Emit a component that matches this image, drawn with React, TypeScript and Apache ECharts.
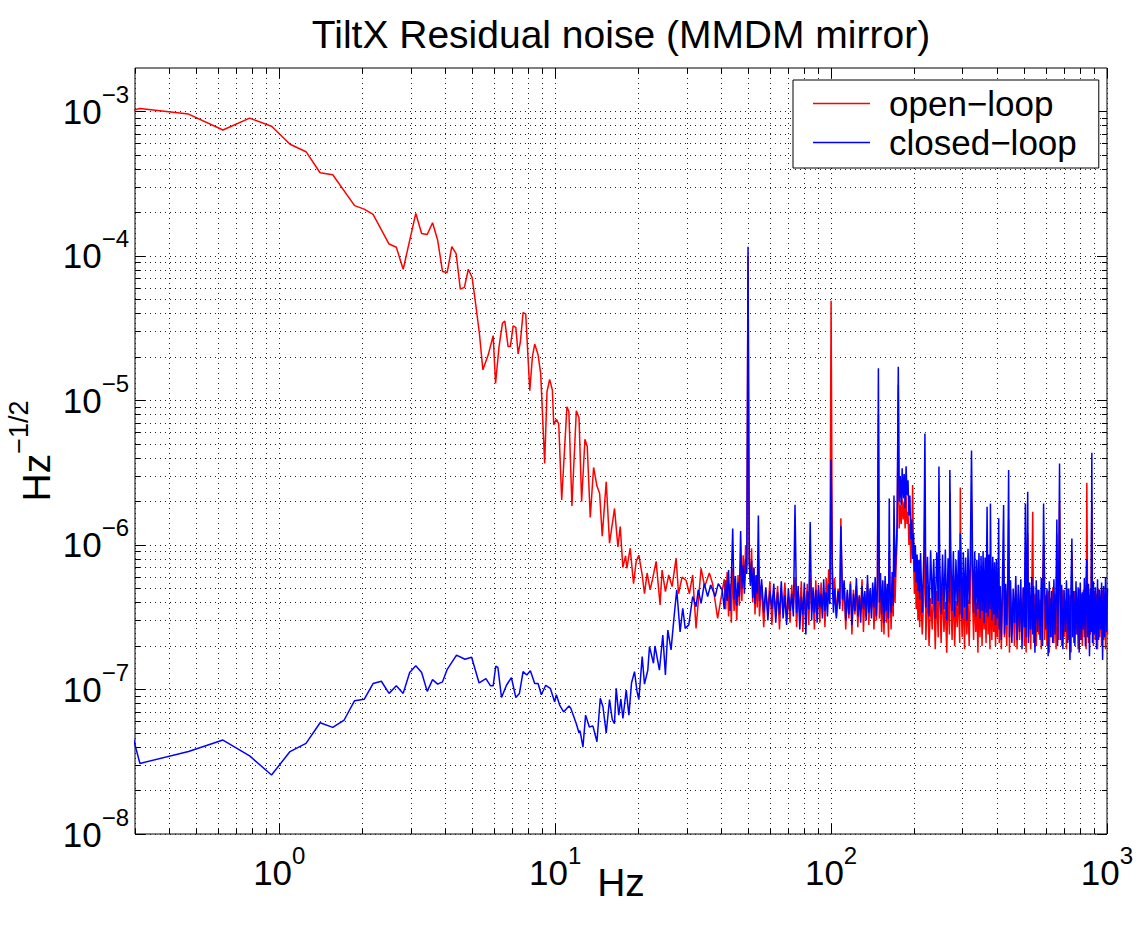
import { useEffect, useRef } from 'react';
import * as echarts from 'echarts';

// Open-loop tilt residual below 40 Hz: [frequency Hz, amplitude Hz^-1/2]
const openLoopLow: [number, number][] = [
  [0.15625, 7.5e-4], [0.3125, 1.05e-3], [0.469, 9.6e-4], [0.625, 7.45e-4], [0.781, 9.0e-4], [0.9375, 7.9e-4],
  [1.094, 5.93e-4], [1.25, 5.27e-4], [1.406, 3.77e-4], [1.5625, 3.65e-4], [1.875, 2.23e-4], [2.031, 2.11e-4],
  [2.1875, 1.94e-4], [2.5, 1.21e-4], [2.656, 1.15e-4], [2.8125, 8.1e-5], [3.125, 1.97e-4], [3.281, 1.43e-4],
  [3.4375, 1.41e-4], [3.594, 1.7e-4], [3.75, 1.29e-4], [3.906, 7.8e-5], [4.0625, 7.7e-5], [4.219, 1.16e-4],
  [4.375, 1.04e-4], [4.531, 5.9e-5], [4.6875, 6.07e-5], [4.844, 8.1e-5], [5.0, 7.1e-5], [5.156, 4.58e-5],
  [5.3125, 2.92e-5], [5.469, 1.63e-5], [5.72, 2.07e-5], [5.96, 2.81e-5], [6.08, 1.31e-5], [6.26, 2.36e-5],
  [6.44, 3.42e-5], [6.57, 3.55e-5], [6.75, 2.36e-5], [6.88, 2.36e-5], [7.04, 3.28e-5], [7.2, 3.21e-5],
  [7.34, 2.1e-5], [7.48, 2.55e-5], [7.65, 4.06e-5], [7.82, 3.97e-5], [8.09, 1.17e-5], [8.27, 2.01e-5],
  [8.43, 2.46e-5], [8.67, 2.07e-5], [8.86, 1.54e-5], [9.16, 3.67e-6], [9.34, 1.15e-5], [9.55, 1.4e-5],
  [9.77, 1.18e-5], [9.88, 6.8e-6], [10.1, 7.4e-6], [10.3, 6.9e-6], [10.56, 2.05e-6], [11.03, 9.06e-6],
  [11.21, 8.4e-6], [11.5, 1.86e-6], [11.93, 8.5e-6], [12.2, 7.6e-6], [12.47, 2.0e-6], [12.82, 5.4e-6],
  [13.07, 4.8e-6], [13.4, 1.55e-6], [13.78, 3.44e-6], [14.17, 2.56e-6], [14.49, 2.28e-6], [14.81, 1.15e-6],
  [15.31, 2.74e-6], [15.74, 1.03e-6], [16.41, 1.79e-6], [16.88, 9.7e-7], [17.21, 1.34e-6], [17.59, 7.0e-7],
  [17.99, 8.4e-7], [18.19, 6.9e-7], [18.7, 9.5e-7], [19.23, 5.4e-7], [19.66, 7.7e-7], [20.1, 8.5e-7],
  [20.67, 6.2e-7], [21.07, 4.6e-7], [21.54, 6.4e-7], [22.09, 4.9e-7], [22.58, 5.9e-7], [23.22, 7.7e-7],
  [24.0, 3.85e-7], [24.4, 6.7e-7], [25.09, 4.75e-7], [25.8, 6.2e-7], [26.53, 5.15e-7], [27.43, 8.1e-7],
  [28.0, 4.6e-7], [28.83, 6.0e-7], [29.81, 5.7e-7], [30.65, 4.6e-7], [31.5, 6.2e-7], [32.4, 2.65e-7],
  [33.8, 6.9e-7], [34.8, 5.15e-7], [36.2, 6.4e-7], [37.2, 5.4e-7], [38.8, 3.1e-7],
];

// Closed-loop tilt residual below 40 Hz: [frequency Hz, amplitude Hz^-1/2]
const closedLoopLow: [number, number][] = [
  [0.15625, 4.7e-6], [0.3125, 3.08e-8], [0.469, 3.72e-8], [0.625, 4.47e-8], [0.781, 3.47e-8], [0.9375, 2.56e-8],
  [1.094, 3.72e-8], [1.25, 4.24e-8], [1.406, 5.89e-8], [1.5625, 5.47e-8], [1.719, 6.15e-8], [1.875, 8.37e-8],
  [2.031, 8.55e-8], [2.1875, 1.1e-7], [2.344, 1.14e-7], [2.5, 9.4e-8], [2.656, 1.06e-7], [2.8125, 9.4e-8],
  [2.969, 1.31e-7], [3.125, 1.46e-7], [3.281, 1.31e-7], [3.4375, 9.7e-8], [3.594, 1.17e-7], [3.75, 1.09e-7],
  [3.906, 1.13e-7], [4.0625, 1.38e-7], [4.39, 1.73e-7], [4.71, 1.62e-7], [4.98, 1.67e-7], [5.3, 1.11e-7],
  [5.61, 1.19e-7], [5.83, 1.06e-7], [5.96, 1.06e-7], [6.09, 1.45e-7], [6.2, 1.42e-7], [6.39, 8.8e-8],
  [6.66, 1.07e-7], [6.94, 1.21e-7], [7.2, 8.8e-8], [7.42, 9.4e-8], [7.65, 1.33e-7], [7.89, 1.26e-7],
  [8.13, 1.35e-7], [8.43, 1.1e-7], [8.67, 1.1e-7], [8.91, 9.2e-8], [9.24, 1.07e-7], [9.6, 1.02e-7],
  [9.96, 8.2e-8], [10.1, 9.2e-8], [10.38, 7.8e-8], [10.73, 7.0e-8], [11.22, 7.7e-8], [11.4, 7.4e-8],
  [11.93, 5.8e-8], [12.2, 5.0e-8], [12.3, 5.2e-8], [12.61, 4.0e-8], [12.89, 6.65e-8], [13.3, 5.5e-8],
  [13.7, 5.6e-8], [14.17, 4.35e-8], [14.57, 8.7e-8], [14.9, 7.6e-8], [15.31, 5.0e-8], [15.74, 8.5e-8],
  [16.1, 6.2e-8], [16.4, 5.8e-8], [16.64, 1.02e-7], [17.0, 6.65e-8], [17.3, 8.6e-8], [17.6, 6.3e-8],
  [18.09, 9.9e-8], [18.5, 6.65e-8], [18.91, 1.11e-7], [19.39, 1.33e-7], [19.8, 9.7e-8], [20.1, 8.5e-8],
  [20.67, 1.69e-7], [21.07, 1.09e-7], [21.66, 1.36e-7], [21.97, 1.98e-7], [22.71, 1.52e-7], [23.0, 2.0e-7],
  [23.87, 1.36e-7], [24.55, 2.38e-7], [25.09, 1.26e-7], [25.6, 2.58e-7], [26.3, 1.88e-7], [27.05, 3.37e-7],
  [27.58, 4.9e-7], [28.36, 2.5e-7], [29.0, 3.65e-7], [29.6, 2.65e-7], [30.5, 2.8e-7], [31.5, 4.4e-7],
  [32.4, 3.74e-7], [33.0, 4.9e-7], [33.8, 3.94e-7], [34.7, 5.4e-7], [35.7, 4.4e-7], [36.6, 5.3e-7],
  [38.0, 4.4e-7], [39.0, 5.4e-7], [40.3, 4.9e-7],
];

// Amplitudes above 40 Hz are listed in units of 1e-7 Hz^-1/2
const BAND_UNIT = 1e-7;

// Open-loop, 40 Hz - 1 kHz: [frequency Hz, amplitude x 1e-7]
const openLoopBand: [number, number][] = [
  [41, 5.8], [41.5, 3.6], [42, 6.5], [42.5, 3.2], [43, 5.4], [43.5, 2.9], [44, 6.9], [44.5, 3.5], [45, 5.0], [45.5, 3.0],
  [46, 6.2], [46.5, 3.8], [47, 7.0], [47.5, 4.1], [48, 8.5], [48.5, 5.0], [49, 10], [49.5, 7.2], [50, 1000], [50.5, 8.0],
  [51, 5.5], [51.5, 9.5], [52, 4.0], [52.5, 7.0], [53, 3.3], [53.5, 6.1], [54, 3.7], [54.5, 8.0], [55, 3.2], [56, 5.3],
  [57, 2.7], [58, 4.9], [59, 3.4], [60, 5.6], [61, 2.8], [62, 4.6], [63, 3.5], [64, 5.2], [65, 2.6], [66, 4.8],
  [67, 3.7], [68, 5.5], [69, 3.0], [70, 4.4], [71, 2.9], [72, 5.3], [73, 3.6], [74, 6.0], [75, 2.7], [76, 4.7],
  [77, 3.4], [78, 5.6], [79, 2.5], [80, 4.6], [81, 3.3], [82, 5.4], [83, 2.8], [84, 6.2], [85, 3.5], [86, 4.5],
  [87, 2.6], [88, 5.7], [89, 3.4], [90, 4.9], [91, 2.9], [92, 5.5], [93, 3.8], [94, 4.6], [95, 2.7], [96, 5.9],
  [97, 3.9], [98, 6.8], [99, 5.0], [100, 490], [101, 7.5], [102, 4.2], [103, 5.9], [104.5, 3.2], [106, 5.0], [107.5, 3.8],
  [108.5, 15.3], [110, 3.5], [111.5, 5.3], [113, 2.6], [114.5, 4.7], [116, 3.1], [117.5, 5.6], [119, 2.4], [120.5, 4.9], [122, 3.3],
  [123.5, 5.2], [125, 2.7], [126.5, 4.5], [128, 3.5], [129.5, 5.8], [131, 2.5], [132.5, 4.6], [134, 3.2], [135.5, 5.4], [137, 2.8],
  [138.5, 4.8], [140, 3.6], [141.5, 5.1], [143, 2.6], [144.5, 4.4], [146, 3.0], [147.2, 5.5], [148.4, 80], [149.6, 3.1], [151, 5.3],
  [152.5, 2.5], [154, 4.8], [155.5, 2.4], [157, 5.6], [158.5, 2.9], [160, 4.6], [161.5, 2.3], [162.5, 9.0], [163.5, 5.0], [165, 2.6],
  [166.5, 4.9], [168, 3.2], [169, 10], [170.5, 4.0], [172, 7.0], [173.5, 11], [175.2, 128], [176.5, 13], [178, 19], [179.5, 14],
  [181, 21], [182.5, 15], [184, 20], [185.5, 13], [187, 22], [188.5, 14], [190, 17], [191.5, 10], [193, 14], [194.5, 7.5],
  [196, 11], [197.5, 26], [199, 8.0], [200.5, 4.6], [202, 7.0], [203.5, 3.6], [205, 6.2], [206.5, 3.0], [208, 5.5], [209.5, 2.7],
  [211, 5.0], [214, 2.4], [217, 4.6], [218.8, 22], [220.5, 2.2], [223.5, 5.2], [226.5, 2.0], [229.5, 4.3], [232.5, 2.6], [235.5, 5.5],
  [238.5, 1.9], [241.5, 4.8], [244.5, 2.3], [246, 15], [247.5, 4.4], [250.5, 2.1], [253.5, 5.1], [256.5, 2.5], [259.5, 4.0], [262.5, 1.8],
  [265.5, 4.9], [268.5, 2.4], [269.4, 23], [271.5, 4.6], [274.5, 2.2], [277.5, 5.3], [280.5, 2.0], [283.5, 4.1], [286.5, 2.7], [289.5, 5.0],
  [292.5, 2.1], [294, 25], [295.5, 4.5], [298.5, 2.3], [301.5, 4.8], [304.5, 1.9], [307.5, 5.2], [310.5, 2.4], [313.5, 4.2], [316.5, 2.0],
  [319.5, 4.7], [322.8, 20], [325.5, 4.4], [328.5, 2.2], [331.5, 5.4], [334.5, 2.5], [337.5, 4.0], [340.5, 1.8], [343.5, 4.9], [346.5, 2.3],
  [349.5, 4.5], [352.5, 2.0], [355.5, 5.1], [358.5, 2.6], [361.5, 4.3], [364.5, 2.1], [367.6, 9.0], [370.5, 2.4], [373.5, 4.8], [376.5, 1.9],
  [378, 8.0], [379.5, 4.6], [382.5, 2.2], [385.5, 5.0], [388.5, 2.5], [391.5, 4.2], [394.5, 2.0], [397.5, 4.7], [400.5, 2.3], [403, 4.4],
  [405, 7.0], [407, 2.1], [410, 4.8], [414, 1.9], [418, 4.2], [422, 8.0], [425, 2.3], [429, 5.0], [433, 2.0], [437, 4.5],
  [440, 15], [443, 1.8], [447, 4.9], [452, 2.4], [457, 4.1], [462, 2.0], [467, 5.2], [472, 1.9], [477, 4.6], [482, 2.2],
  [487, 4.3], [492, 2.5], [497, 5.0], [502, 2.0], [506, 9.0], [509, 1.8], [512, 4.7], [516, 12], [519, 2.3], [524, 4.4],
  [529, 1.9], [534, 5.1], [538, 17], [542, 2.1], [548, 4.6], [554, 2.0], [560, 4.9], [566, 2.4], [572, 4.2], [578, 1.9],
  [584, 5.0], [589, 10], [594, 2.2], [600, 4.5], [606, 2.0], [612, 4.8], [618, 1.8], [624, 4.3], [630, 2.3], [636, 5.1],
  [642, 2.1], [648, 4.6], [654, 1.9], [658, 12], [662, 4.4], [668, 2.2], [673, 20], [678, 4.7], [685, 2.0], [692, 4.9],
  [699, 2.3], [706, 4.1], [713, 1.9], [720, 5.0], [727, 2.2], [734, 4.5], [741, 1.8], [746, 9.0], [751, 4.6], [758, 2.1],
  [765, 4.8], [772, 2.4], [779, 4.3], [786, 1.9], [793, 5.0], [800, 2.2], [807, 4.6], [814, 2.0], [821, 4.9], [828, 2.3],
  [835, 4.4], [840, 1.9], [845, 27], [850, 4.7], [857, 2.1], [864, 4.5], [871, 2.4], [876, 5.2], [881, 20], [886, 4.3],
  [893, 2.0], [900, 4.8], [908, 2.2], [916, 4.6], [924, 1.9], [932, 5.0], [940, 2.3], [948, 4.4], [956, 2.0], [964, 4.9],
  [972, 2.2], [980, 4.5], [988, 1.9], [996, 4.7], [1004, 2.4],
];

// Closed-loop, 40 Hz - 1 kHz: [frequency Hz, amplitude x 1e-7]
const closedLoopBand: [number, number][] = [
  [41, 3.6], [41.5, 5.7], [42, 4.1], [42.5, 6.7], [43, 3.5], [43.5, 5.9], [44, 13], [44.5, 4.2], [45, 6.1], [45.5, 3.8],
  [46, 5.5], [46.5, 4.4], [47, 12.5], [47.5, 5.0], [48, 7.2], [48.5, 4.6], [49, 8.0], [49.5, 6.3], [50, 1160], [50.5, 7.5],
  [51, 5.2], [51.5, 7.8], [52, 4.3], [52.5, 6.9], [53, 3.9], [53.5, 6.2], [54, 4.6], [54.5, 16], [55, 4.1], [56, 5.8],
  [57, 3.4], [58, 5.1], [59, 3.0], [60, 4.8], [61, 3.6], [62, 5.4], [63, 2.9], [64, 4.7], [65, 3.3], [66, 5.6],
  [67, 3.1], [68, 4.5], [69, 2.8], [70, 5.0], [71, 3.5], [72, 4.6], [73, 3.2], [74, 19], [75, 3.4], [76, 5.2],
  [77, 2.6], [78, 4.4], [79, 3.3], [80, 5.5], [81, 2.4], [82, 4.8], [83, 3.6], [84, 14.4], [85, 3.0], [86, 5.1],
  [87, 3.4], [88, 4.9], [89, 2.9], [90, 5.3], [91, 3.7], [92, 4.6], [93, 3.1], [94, 5.8], [95, 3.5], [96, 4.7],
  [97, 3.2], [98, 5.4], [99, 3.9], [100, 39], [101, 5.6], [102, 3.4], [103, 5.0], [104.5, 3.1], [106, 4.8], [107.5, 3.6],
  [108.5, 13.5], [110, 4.2], [111.5, 5.7], [113, 3.0], [114.5, 4.9], [116, 3.3], [117.5, 5.4], [119, 2.8], [120.5, 4.6], [122, 3.5],
  [123.5, 5.9], [125, 3.2], [126.5, 4.4], [128, 2.9], [129.5, 5.2], [131, 3.6], [132.5, 4.8], [134, 3.0], [135.5, 6.2], [137, 3.4],
  [138.5, 5.0], [140, 3.1], [141.5, 5.5], [143, 3.7], [144.5, 6.0], [146, 3.2], [147.2, 5.1], [148.4, 167], [149.6, 4.0], [151, 6.4],
  [152.5, 3.3], [154, 5.7], [155.5, 2.9], [157, 6.1], [158.5, 3.5], [160, 5.4], [161.5, 3.1], [162.5, 21], [163.5, 4.8], [165, 3.4],
  [166.5, 6.5], [168, 3.8], [169, 22], [170.5, 6.0], [172, 9.0], [173.5, 14], [175.2, 171], [176.5, 20], [178, 30], [179.5, 19],
  [181, 34], [182.5, 21], [184, 31], [185.5, 18], [187, 35], [188.5, 22], [190, 28], [191.5, 16], [193, 22], [194.5, 11],
  [196, 15], [197.5, 8.0], [199, 12], [200.5, 6.5], [202, 10], [203.5, 5.5], [205, 8.6], [206.5, 4.8], [208, 7.9], [209.5, 4.2],
  [211, 8.8], [214, 3.4], [217, 9.0], [218.8, 59], [220.5, 3.7], [223.5, 8.3], [226.5, 3.2], [229.5, 9.2], [232.5, 3.9], [235.5, 8.0],
  [238.5, 3.1], [241.5, 8.9], [244.5, 4.1], [246, 35], [247.5, 7.8], [250.5, 3.3], [253.5, 8.6], [256.5, 3.6], [259.5, 9.3], [262.5, 3.0],
  [265.5, 8.1], [268.5, 4.0], [269.4, 33], [271.5, 8.8], [274.5, 3.5], [277.5, 9.1], [280.5, 3.2], [283.5, 7.9], [286.5, 3.8], [289.5, 9.2],
  [292.5, 3.3], [294, 12], [295.5, 8.5], [298.5, 3.1], [301.5, 8.9], [304.5, 3.7], [307.5, 8.2], [310.5, 3.0], [313.5, 9.4], [316.5, 3.9],
  [319.5, 8.0], [322.8, 45], [325.5, 8.7], [328.5, 3.4], [331.5, 9.0], [334.5, 3.2], [337.5, 7.9], [340.5, 3.6], [343.5, 8.8], [346.5, 3.1],
  [349.5, 8.4], [352.5, 3.5], [355.5, 9.1], [358.5, 2.9], [361.5, 8.2], [364.5, 3.4], [367.6, 18.4], [370.5, 3.2], [373.5, 8.6], [376.5, 3.6],
  [378, 19.4], [379.5, 7.9], [382.5, 3.0], [385.5, 8.3], [388.5, 3.3], [391.5, 7.6], [394.5, 2.8], [397.5, 8.0], [400.5, 3.1], [403, 5.6],
  [405, 15.3], [407, 2.6], [410, 5.2], [414, 2.2], [418, 5.9], [422, 18.9], [425, 2.4], [429, 5.4], [433, 2.8], [437, 6.0],
  [440, 33], [443, 2.3], [447, 5.7], [452, 2.1], [457, 5.0], [462, 2.9], [467, 6.1], [472, 2.2], [477, 5.3], [482, 2.5],
  [487, 5.8], [492, 1.9], [497, 5.1], [502, 2.7], [506, 19.4], [509, 2.3], [512, 5.6], [516, 23.4], [519, 2.1], [524, 5.5],
  [529, 2.6], [534, 6.0], [538, 2.4], [542, 5.2], [548, 1.8], [554, 5.7], [560, 2.5], [566, 4.9], [572, 2.2], [578, 5.9],
  [584, 2.0], [589, 19.4], [594, 5.4], [600, 2.6], [606, 5.0], [612, 1.7], [618, 5.6], [624, 2.3], [630, 4.8], [636, 2.1],
  [642, 5.8], [648, 2.4], [654, 5.1], [658, 15], [662, 2.0], [668, 5.5], [673, 36.7], [678, 2.2], [685, 5.3], [692, 1.9],
  [699, 4.9], [706, 2.5], [713, 5.7], [720, 2.1], [727, 5.0], [734, 1.6], [741, 5.4], [746, 11.1], [751, 2.3], [758, 4.8],
  [765, 2.0], [772, 5.6], [779, 2.4], [786, 5.1], [793, 1.8], [800, 5.5], [807, 2.2], [814, 4.7], [821, 2.6], [828, 5.9],
  [835, 2.0], [840, 5.2], [845, 8.0], [850, 2.3], [857, 5.4], [864, 1.7], [871, 5.0], [876, 2.5], [881, 43.5], [886, 2.1],
  [893, 5.6], [900, 2.4], [908, 5.1], [916, 1.9], [924, 5.8], [932, 2.2], [940, 4.9], [948, 2.6], [956, 5.5], [964, 1.6],
  [972, 5.2], [980, 2.3], [988, 6.0], [996, 2.5], [1004, 5.0],
];

// Axis ranges and tick positions
const X_MIN = 0.3;
const X_MAX = 1000;
const Y_MIN = 1e-8;
const Y_MAX = 2e-3;
const X_MAJOR = [1, 10, 100, 1000];
const X_DECADES = [0.1, 1, 10, 100];
const Y_MAJOR = [1e-8, 1e-7, 1e-6, 1e-5, 1e-4, 1e-3];
const Y_DECADES = [1e-8, 1e-7, 1e-6, 1e-5, 1e-4];
const MINOR_STEPS = [2, 3, 4, 5, 6, 7, 8, 9];

const X_MINOR = X_DECADES.flatMap((d) => MINOR_STEPS.map((k) => k * d)).filter((v) => v > X_MIN && v < X_MAX);
const Y_MINOR = Y_DECADES.flatMap((d) => MINOR_STEPS.map((k) => k * d)).filter((v) => v > Y_MIN && v < Y_MAX);

const SERIES_NAMES = ['open\u2212loop', 'closed\u2212loop'];
const TITLE = 'TiltX Residual noise (MMDM mirror)';

const FONT = '"Liberation Sans", Arial, Helvetica, sans-serif';
const TICK_FONT = 35;
const SUP_FONT = 24;
const NAME_FONT = 39;
const LINE_WIDTH = 1.5;

const toBand = (rows: [number, number][]) => rows.map(([f, v]) => [f, v * BAND_UNIT]);

const pow10Label = (v: number) => {
  const e = Math.round(Math.log10(v));
  return `{b|10}{s|${e < 0 ? '\u2212' + -e : e}}`;
};

const labelRich = {
  b: { fontSize: TICK_FONT, lineHeight: 58, fontFamily: FONT, color: '#000' },
  s: { fontSize: SUP_FONT, lineHeight: 24, verticalAlign: 'top', fontFamily: FONT, color: '#000' },
};

const dotted = { show: true, lineStyle: { color: '#222', width: 1, type: [1, 4] } };
const tickStyle = { color: '#000', width: 1 };

function makeX(position: 'bottom' | 'top', values: number[], len: number, extra: Record<string, unknown> = {}) {
  return {
    type: 'log',
    logBase: 10,
    min: X_MIN,
    max: X_MAX,
    position,
    axisLine: { show: false },
    axisTick: { show: true, inside: true, length: len, customValues: values, lineStyle: tickStyle },
    axisLabel: { show: false },
    splitLine: { show: false },
    minorTick: { show: false },
    minorSplitLine: { show: false },
    nameMoveOverlap: false,
    ...extra,
  };
}

function makeY(position: 'left' | 'right', values: number[], len: number, extra: Record<string, unknown> = {}) {
  return {
    type: 'log',
    logBase: 10,
    min: Y_MIN,
    max: Y_MAX,
    position,
    axisLine: { show: false },
    axisTick: { show: true, inside: true, length: len, customValues: values, lineStyle: tickStyle },
    axisLabel: { show: false },
    splitLine: { show: false },
    minorTick: { show: false },
    minorSplitLine: { show: false },
    nameMoveOverlap: false,
    ...extra,
  };
}

export default function App() {
  const ref = useRef<HTMLDivElement>(null);

  useEffect(() => {
    if (!ref.current) return;
    const chart = echarts.init(ref.current, undefined, { renderer: 'svg' });

    const openData = [...openLoopLow, ...toBand(openLoopBand)];
    const closedData = [...closedLoopLow, ...toBand(closedLoopBand)];

    chart.setOption({
      animation: false,
      backgroundColor: '#fff',
      textStyle: { fontFamily: FONT },
      grid: {
        left: 135,
        top: 68,
        right: 31,
        bottom: 92,
        show: true,
        borderColor: '#000',
        borderWidth: 1,
        backgroundColor: '#fff',
        containLabel: false,
        outerBoundsMode: 'none',
      },
      graphic: [
        {
          type: 'text',
          x: 621,
          y: 34,
          silent: true,
          style: {
            text: TITLE,
            fontSize: NAME_FONT,
            fontFamily: FONT,
            fill: '#000',
            align: 'center',
            verticalAlign: 'middle',
            textAlign: 'center',
            textVerticalAlign: 'middle',
          },
        },
      ],
      legend: {
        orient: 'vertical',
        left: 793,
        top: 80,
        padding: [4, 22, 6, 20],
        itemGap: 0,
        itemWidth: 57,
        itemHeight: 1.5,
        icon: 'rect',
        backgroundColor: '#fff',
        borderColor: '#000',
        borderWidth: 1,
        borderRadius: 0,
        selectedMode: false,
        data: SERIES_NAMES,
        textStyle: { fontSize: TICK_FONT, fontFamily: FONT, color: '#000', lineHeight: 39, padding: [0, 0, 0, 14] },
      },
      xAxis: [
        makeX('bottom', X_MAJOR, 10, {
          axisLabel: { show: true, customValues: X_MAJOR, formatter: pow10Label, margin: 9, rich: labelRich },
          splitLine: dotted,
          name: 'Hz',
          nameLocation: 'middle',
          nameGap: 29,
          nameTextStyle: { fontSize: NAME_FONT, fontFamily: FONT, color: '#000', lineHeight: 39 },
        }),
        makeX('bottom', X_MINOR, 5, { splitLine: dotted }),
        makeX('top', X_MAJOR, 10),
        makeX('top', X_MINOR, 5),
      ],
      yAxis: [
        makeY('left', Y_MAJOR, 10, {
          axisLabel: { show: true, customValues: Y_MAJOR, formatter: pow10Label, margin: 6, rich: labelRich },
          splitLine: dotted,
          name: '{b|Hz}{s|\u22121/2}',
          nameLocation: 'middle',
          nameRotate: 90,
          nameGap: 68,
          nameTextStyle: {
            fontSize: NAME_FONT,
            fontFamily: FONT,
            color: '#000',
            rich: {
              b: { fontSize: NAME_FONT, lineHeight: 62, fontFamily: FONT, color: '#000' },
              s: { fontSize: 27, lineHeight: 27, verticalAlign: 'top', fontFamily: FONT, color: '#000' },
            },
          },
        }),
        makeY('left', Y_MINOR, 5, { splitLine: dotted }),
        makeY('right', Y_MAJOR, 10),
        makeY('right', Y_MINOR, 5),
      ],
      series: [
        {
          name: SERIES_NAMES[0],
          type: 'line',
          xAxisIndex: 0,
          yAxisIndex: 0,
          data: openData,
          symbol: 'none',
          showSymbol: false,
          silent: true,
          z: 3,
          lineStyle: { color: '#ff0000', width: LINE_WIDTH },
          itemStyle: { color: '#ff0000' },
        },
        {
          name: SERIES_NAMES[1],
          type: 'line',
          xAxisIndex: 0,
          yAxisIndex: 0,
          data: closedData,
          symbol: 'none',
          showSymbol: false,
          silent: true,
          z: 4,
          lineStyle: { color: '#0000ff', width: LINE_WIDTH },
          itemStyle: { color: '#0000ff' },
        },
      ],
    });

    return () => chart.dispose();
  }, []);

  return (
    <div
      ref={ref}
      style={{ position: 'fixed', left: 0, top: 0, width: 1138, height: 926, background: '#fff' }}
    />
  );
}
